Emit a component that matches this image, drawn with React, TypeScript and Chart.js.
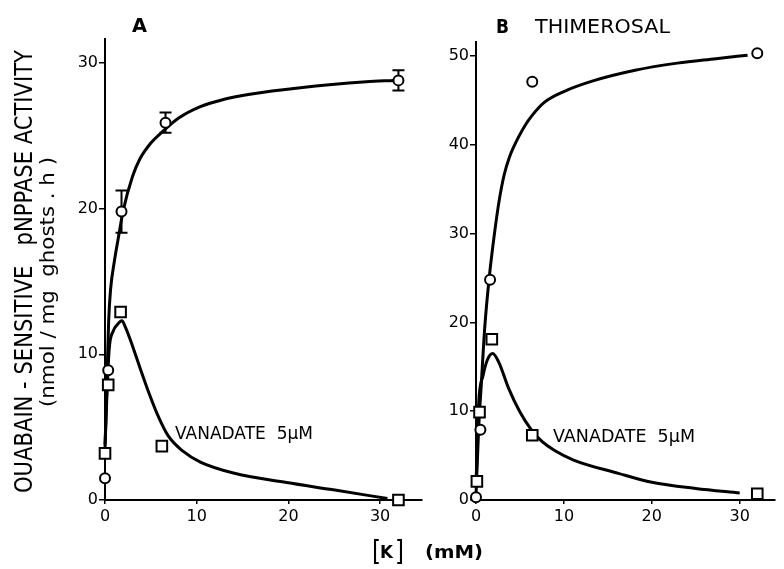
import React, { useEffect, useRef } from "react";
import { Chart, registerables } from "chart.js";

Chart.register(...registerables);

const FONT = "DejaVu Sans";

// Tick labels
const xTicks = [0, 10, 20, 30];
const yTicksA = [0, 10, 20, 30];
const yTicksB = [0, 10, 20, 30, 40, 50];

// Panel A – measured points
const circleAx = [0, 0.35, 1.8, 6.6, 32];
const circleAy = [1.5, 8.9, 19.8, 25.9, 28.8];
const circleAerr = [0, 0, 1.45, 0.7, 0.7];
const squareAx = [0, 0.35, 1.7, 6.2, 32];
const squareAy = [3.2, 7.9, 12.9, 3.7, 0];

// Panel A – drawn curves
const curveACircX = [0, 0.1, 0.25, 0.4, 0.6, 1.0, 1.4, 2.0, 3.0, 3.8, 5.0, 6.3, 8.0, 10.4, 13, 15.8, 21.3, 28.5, 31.5];
const curveACircY = [3.5, 5.5, 9.0, 12.3, 14.4, 16.3, 17.8, 19.9, 22.2, 23.4, 24.5, 25.3, 26.2, 27.0, 27.5, 27.85, 28.3, 28.7, 28.8];
const curveASqX = [0, 0.2, 0.45, 0.9, 1.3, 1.85, 2.2, 2.7, 3.8, 4.7, 5.7, 6.9, 8.5, 10.4, 14, 19.8, 24.9, 30.8];
const curveASqY = [3.8, 7.0, 10.3, 11.6, 12.0, 12.3, 11.9, 11.1, 9.1, 7.5, 5.9, 4.4, 3.35, 2.6, 1.85, 1.2, 0.7, 0.1];

// Panel B – measured points
const circleBx = [0, 0.5, 1.6, 6.4, 32];
const circleBy = [0.3, 7.9, 24.8, 47.1, 50.3];
const squareBx = [0.1, 0.4, 1.8, 6.4, 32];
const squareBy = [2.1, 9.9, 18.1, 7.3, 0.7];

// Panel B – drawn curves
const curveBCircX = [0, 0.1, 0.3, 0.6, 1.0, 1.5, 2.1, 2.65, 3.2, 3.8, 4.4, 4.85, 5.6, 6.3, 7.8, 10.0, 13.3, 18.1, 22.9, 27.3, 30.9];
const curveBCircY = [0.5, 3, 8, 13, 19.5, 25, 30, 33.8, 36.6, 38.6, 40.0, 40.9, 42.2, 43.2, 44.8, 46.0, 47.2, 48.4, 49.2, 49.7, 50.1];
const curveBSqX = [0, 0.15, 0.3, 0.8, 1.3, 1.9, 2.6, 3.7, 5.0, 6.3, 7.5, 8.9, 11.1, 16.2, 20, 25, 30];
const curveBSqY = [2, 6, 10.8, 14, 15.8, 16.5, 15.5, 12.6, 9.9, 7.9, 6.6, 5.6, 4.5, 3.0, 2.0, 1.3, 0.8];

const xy = (xs: number[], ys: number[]) => xs.map((x, i) => ({ x, y: ys[i] }));

function fitText(ctx: any, text: string, x: number, y: number, width: number, font: string, rotate = false) {
  ctx.save();
  ctx.font = font;
  ctx.fillStyle = "#000";
  ctx.textAlign = "left";
  ctx.textBaseline = "alphabetic";
  const m = ctx.measureText(text).width;
  ctx.translate(x, y);
  if (rotate) ctx.rotate(-Math.PI / 2);
  ctx.scale(width / m, 1);
  ctx.fillText(text, 0, 0);
  ctx.restore();
}

function makeScales(xMax: number, yMax: number, yTicks: number[]) {
  const common = {
    type: "linear",
    border: { display: true, color: "#000", width: 2 },
    ticks: { color: "#000", font: { family: FONT, size: 16 }, maxRotation: 0, autoSkip: false },
  };
  return {
    x: {
      ...common,
      min: 0,
      max: xMax,
      afterBuildTicks: (s: any) => { s.ticks = xTicks.map((v) => ({ value: v })); },
      afterFit: (s: any) => { s.height = 40; },
      grid: { drawOnChartArea: false, drawTicks: true, tickLength: 4, color: "#000", lineWidth: 1.5 },
      ticks: { ...common.ticks, padding: 3 },
    },
    y: {
      ...common,
      min: 0,
      max: yMax,
      afterBuildTicks: (s: any) => { s.ticks = yTicks.map((v) => ({ value: v })); },
      afterFit: (s: any) => { s.width = 40; },
      grid: { drawOnChartArea: false, drawTicks: true, tickLength: 6, color: "#000", lineWidth: 1.5 },
      ticks: { ...common.ticks, padding: 1 },
    },
  };
}

function datasets(cx: number[], cy: number[], sx: number[], sy: number[], c1x: number[], c1y: number[], c2x: number[], c2y: number[]) {
  const marker = { showLine: false, borderColor: "#000", backgroundColor: "#fff", borderWidth: 2, clip: false };
  const curve = { showLine: true, borderColor: "#000", borderWidth: 3, pointRadius: 0, cubicInterpolationMode: "monotone", fill: false, clip: false };
  return [
    { ...marker, data: xy(cx, cy), pointStyle: "circle", pointRadius: 5 },
    { ...marker, data: xy(sx, sy), pointStyle: "rect", pointRadius: 7.5 },
    { ...curve, data: xy(c1x, c1y) },
    { ...curve, data: xy(c2x, c2y) },
  ];
}

export default function App() {
  const refA = useRef<HTMLCanvasElement>(null);
  const refB = useRef<HTMLCanvasElement>(null);

  useEffect(() => {
    const errorBars = {
      id: "errorBars",
      beforeDatasetDraw(chart: any, args: any) {
        if (args.index !== 0) return;
        const ctx = chart.ctx;
        const xs = chart.scales.x, ys = chart.scales.y;
        ctx.save();
        ctx.strokeStyle = "#000";
        ctx.lineWidth = 2;
        circleAx.forEach((x, i) => {
          const e = circleAerr[i];
          if (!e) return;
          const px = xs.getPixelForValue(x);
          const top = ys.getPixelForValue(circleAy[i] + e);
          const bot = ys.getPixelForValue(circleAy[i] - e);
          ctx.beginPath();
          ctx.moveTo(px, top); ctx.lineTo(px, bot);
          ctx.moveTo(px - 6, top); ctx.lineTo(px + 6, top);
          ctx.moveTo(px - 6, bot); ctx.lineTo(px + 6, bot);
          ctx.stroke();
        });
        ctx.restore();
      },
    };

    const textA = {
      id: "textA",
      afterDraw(chart: any) {
        const ctx = chart.ctx;
        fitText(ctx, "A", 132, 32, 15, `bold 19px "${FONT}"`);
        fitText(ctx, "VANADATE  5\u03bcM", 175, 439, 138, `17px "${FONT}"`);
        fitText(ctx, "OUABAIN - SENSITIVE   pNPPASE ACTIVITY", 32, 493, 443, `24px "${FONT}"`, true);
        fitText(ctx, "(nmol / mg  ghosts . h )", 54, 407, 250, `20px "${FONT}"`, true);
        fitText(ctx, "[", 372, 561, 9, `28px "${FONT}"`);
        fitText(ctx, "K", 380, 558, 13, `bold 18px "${FONT}"`);
        fitText(ctx, "]", 395, 561, 9, `28px "${FONT}"`);
        fitText(ctx, "(mM)", 425, 558, 58, `bold 17px "${FONT}"`);
      },
    };

    const textB = {
      id: "textB",
      afterDraw(chart: any) {
        const ctx = chart.ctx;
        fitText(ctx, "B", 496, 33, 13, `bold 19px "${FONT}"`);
        fitText(ctx, "THIMEROSAL", 535, 33, 135, `19px "${FONT}"`);
        fitText(ctx, "VANADATE  5\u03bcM", 553, 442, 142, `17px "${FONT}"`);
      },
    };

    const chartA = new Chart(refA.current as any, {
      type: "scatter",
      data: { datasets: datasets(circleAx, circleAy, squareAx, squareAy, curveACircX, curveACircY, curveASqX, curveASqY) as any },
      options: {
        animation: false,
        responsive: false,
        layout: { padding: { left: 65, right: 362, top: 39, bottom: 29 } },
        plugins: { legend: { display: false }, tooltip: { enabled: false } },
        scales: makeScales(34.57, 31.64, yTicksA) as any,
      },
      plugins: [errorBars, textA],
    } as any);

    const chartB = new Chart(refB.current as any, {
      type: "scatter",
      data: { datasets: datasets(circleBx, circleBy, squareBx, squareBy, curveBCircX, curveBCircY, curveBSqX, curveBSqY) as any },
      options: {
        animation: false,
        responsive: false,
        layout: { padding: { left: 436, right: 0, top: 42, bottom: 29 } },
        plugins: { legend: { display: false }, tooltip: { enabled: false } },
        scales: makeScales(33.96, 51.58, yTicksB) as any,
      },
      plugins: [textB],
    } as any);

    return () => {
      chartA.destroy();
      chartB.destroy();
    };
  }, []);

  const canvasStyle: React.CSSProperties = { position: "absolute", left: 0, top: 0, width: 784, height: 569 };
  return (
    <div style={{ position: "fixed", left: 0, top: 0, width: 784, height: 569, background: "#fff", overflow: "hidden" }}>
      <canvas ref={refA} width={784} height={569} style={canvasStyle} />
      <canvas ref={refB} width={784} height={569} style={canvasStyle} />
    </div>
  );
}
